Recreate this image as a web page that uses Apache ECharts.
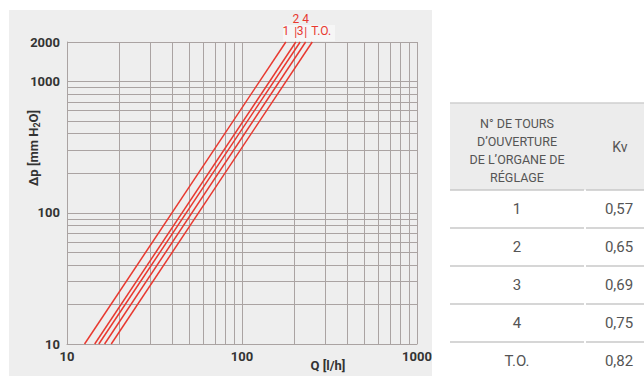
<!DOCTYPE html>
<html>
<head>
<meta charset="utf-8">
<script src="https://cdn.jsdelivr.net/npm/echarts@6/dist/echarts.min.js"></script>
<style>
html,body{margin:0;padding:0;background:#fff;}
#c{width:644px;height:376px;}
</style>
</head>
<body>
<div id="c"></div>
<script>
// ---- data ----
const curveNames = ['1', '2', '3', '4', 'T.O.'];
const dpEnds = [10, 2000];                       // Δp at both ends of each line [mm H2O]
const qAtLow = [12.6, 14.4, 15.2, 16.4, 17.9];   // Q [l/h] where each line meets Δp = 10
const qAtHigh = [178, 203, 215, 231, 252];       // Q [l/h] where each line meets Δp = 2000
const xMinorGrid = [20, 30, 40, 50, 60, 70, 80, 90, 200, 300, 400, 500, 600, 700, 800, 900];
const yMinorGrid = [20, 30, 40, 50, 60, 70, 80, 90, 200, 300, 400, 500, 600, 700, 800, 900];
const turnLabels = ['1', '2', '3', '4', 'T.O.'];
const kvValues = ['0,57', '0,65', '0,69', '0,75', '0,82'];
const tableHeader = ['N° DE TOURS', 'D\u2019OUVERTURE', 'DE L\u2019ORGANE DE', 'RÉGLAGE'];
const kvHeader = 'Kv';
const yName = ['Δp [mm H', '2', 'O]'];
const xName = 'Q [l/h]';

const RED = '#e8382f';
const GRID = '#aaa3a2';
const FONT = 'Roboto';

const chart = echarts.init(document.getElementById('c'), null, {renderer: 'svg'});

const series = curveNames.map((name, i) => {
  const raised = (i === 1 || i === 3);
  return {
    type: 'line',
    name: name,
    z: 10,
    symbol: 'circle',
    symbolSize: 1,
    showSymbol: true,
    clip: false,
    silent: true,
    itemStyle: {color: 'rgba(0,0,0,0)'},
    lineStyle: {color: RED, width: 1.5},
    label: {show: false},
    data: [
      [qAtLow[i], dpEnds[0]],
      {
        value: [qAtHigh[i], dpEnds[1]],
        label: {
          show: true,
          position: 'top',
          distance: raised ? 3 : 4,
          align: i === 4 ? 'left' : 'center',
          offset: i === 4 ? [-1, 0] : [0, 0],
          formatter: raised ? name + '\n|' : name,
          color: RED,
          fontFamily: FONT,
          fontSize: 12,
          lineHeight: 13
        }
      }
    ]
  };
});

series.push({
  type: 'line',
  data: [],
  silent: true,
  markLine: {
    silent: true,
    z: 1,
    symbol: 'none',
    animation: false,
    label: {show: false},
    lineStyle: {color: GRID, type: 'solid', width: 1},
    data: xMinorGrid.map(v => ({xAxis: v})).concat(yMinorGrid.map(v => ({yAxis: v})))
  }
});

const tableLeft = 450, tableRight = 644, colSplit = 585;
const headerTop = 103, headerBottom = 190, rowH = 38;
const graphics = [
  {type: 'rect', z: -10, shape: {x: 9, y: 10, width: 423, height: 366}, style: {fill: '#eeeeee'}},
  {type: 'rect', z: -9, shape: {x: 283, y: 25, width: 52, height: 16}, style: {fill: '#f6f6f6'}},
  {type: 'rect', z: -5, shape: {x: tableLeft, y: headerTop, width: tableRight - tableLeft, height: headerBottom - headerTop}, style: {fill: '#ececec'}},
  {type: 'line', shape: {x1: tableLeft, y1: headerTop, x2: tableRight, y2: headerTop}, style: {stroke: '#cfcfcf', lineWidth: 1.5}},
  {type: 'text', x: 517, y: 150, style: {text: tableHeader.join('\n'), fill: '#555', fontFamily: FONT, fontSize: 12.5, lineHeight: 18, align: 'center', verticalAlign: 'middle'}},
  {type: 'text', x: 620, y: 147, style: {text: kvHeader, fill: '#555', fontFamily: FONT, fontSize: 14, align: 'center', verticalAlign: 'middle'}},
  {type: 'text', x: 33, y: 148, rotation: Math.PI / 2,
    style: {
      text: '{a|' + yName[0] + '}{s|' + yName[1] + '}{a|' + yName[2] + '}',
      align: 'center', verticalAlign: 'middle', fill: '#333',
      rich: {
        a: {fontFamily: FONT, fontSize: 13, fontWeight: 'bold', fill: '#333'},
        s: {fontFamily: FONT, fontSize: 9, fontWeight: 'bold', fill: '#333', padding: [7, 0, 0, 0]}
      }
    }},
  {type: 'text', x: 328, y: 365, style: {text: xName, fill: '#333', fontFamily: FONT, fontSize: 13, fontWeight: 'bold', align: 'center', verticalAlign: 'middle'}}
];
turnLabels.forEach((t, i) => {
  const top = headerBottom + i * rowH;
  graphics.push({type: 'line', shape: {x1: tableLeft, y1: top, x2: colSplit - 1, y2: top}, style: {stroke: '#c9c9c9', lineWidth: 1.5}});
  graphics.push({type: 'line', shape: {x1: colSplit + 1, y1: top, x2: tableRight, y2: top}, style: {stroke: '#c9c9c9', lineWidth: 1.5}});
  graphics.push({type: 'text', x: 517, y: top + rowH / 2, style: {text: t, fill: '#555', fontFamily: FONT, fontSize: 15, align: 'center', verticalAlign: 'middle'}});
  graphics.push({type: 'text', x: 619, y: top + rowH / 2, style: {text: kvValues[i], fill: '#555', fontFamily: FONT, fontSize: 15, align: 'center', verticalAlign: 'middle'}});
});

const axisLabel = {
  color: '#333', fontFamily: FONT, fontSize: 13, fontWeight: 'bold',
  formatter: v => String(Math.round(v))
};

chart.setOption({
  animation: false,
  backgroundColor: '#ffffff',
  textStyle: {fontFamily: FONT},
  grid: {left: 67, top: 42, width: 350, height: 302, containLabel: false},
  xAxis: {
    type: 'log', logBase: 10, min: 10, max: 1000,
    axisLine: {show: true, lineStyle: {color: GRID, width: 1}},
    axisTick: {show: false},
    splitLine: {show: true, lineStyle: {color: GRID, width: 1}},
    axisLabel: Object.assign({margin: 6}, axisLabel)
  },
  yAxis: {
    type: 'log', logBase: 10, min: 10, max: 2000,
    axisLine: {show: true, lineStyle: {color: GRID, width: 1}},
    axisTick: {show: false},
    splitLine: {show: true, lineStyle: {color: GRID, width: 1}},
    axisLabel: Object.assign({margin: 7, showMaxLabel: true}, axisLabel)
  },
  series: series,
  graphic: graphics
});
</script>
</body>
</html>
